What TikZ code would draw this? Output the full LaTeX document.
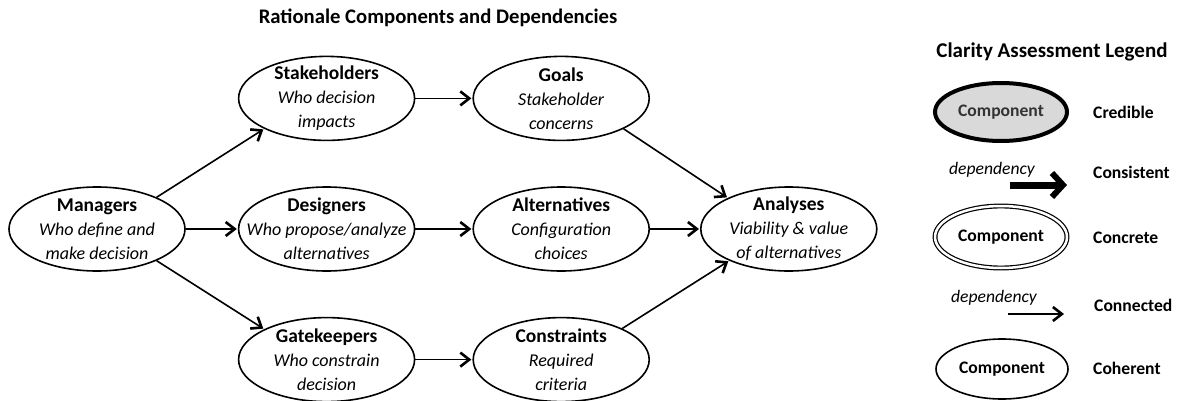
\documentclass[tikz,border=0pt]{standalone}
\usepackage{fontspec}
\setmainfont{Carlito}
\usetikzlibrary{shapes,arrows.meta,positioning}

\newcommand{\compname}[1]{{\fontsize{19.5}{24}\selectfont\bfseries #1}}

\begin{document}
\begin{tikzpicture}[
    x=1pt, y=1pt,
    node distance=52pt,
    comp/.style={draw, ellipse, line width=1.6pt, minimum width=176pt, minimum height=84pt, inner xsep=-19pt, inner ysep=-8pt, align=center, font=\fontsize{18}{24}\selectfont},
    legcomp/.style={draw, ellipse, line width=1.6pt, minimum width=132pt, minimum height=58pt, font=\fontsize{17.6}{20}\selectfont\bfseries},
    leglabel/.style={font=\fontsize{17.6}{20}\selectfont\bfseries, inner sep=0pt},
    arrow/.style={line width=1.6pt, -{Straight Barb[length=9pt,width=14pt,line width=2.6pt]}, shorten >=1pt}
]
\useasboundingbox (0,0) rectangle (1177,-401);

\node (title) [font=\fontsize{20.7}{22}\selectfont\bfseries] at (438,-18) {Rationale Components and Dependencies};

\node (managers) [comp] at (97,-229) {\compname{Managers}\\\textit{Who define and}\\\textit{make decision}};
\node (designers) [comp, right=of managers] {\compname{Designers}\\\textit{Who propose/analyze}\\\textit{alternatives}};
\node (stakeholders) [comp, above=45pt of designers] {\compname{Stakeholders}\\\textit{Who decision}\\\textit{impacts}};
\node (gatekeepers) [comp, below=45pt of designers] {\compname{Gatekeepers}\\\textit{Who constrain}\\\textit{decision}};
\node (alternatives) [comp, right=57pt of designers] {\compname{Alternatives}\\\textit{Configuration}\\\textit{choices}};
\node (goals) [comp, above=45pt of alternatives] {\compname{Goals}\\\textit{Stakeholder}\\\textit{concerns}};
\node (constraints) [comp, below=45pt of alternatives] {\compname{Constraints}\\\textit{Required}\\\textit{criteria}};
\node (analyses) [comp, right=50pt of alternatives] {\compname{Analyses}\\\textit{Viability \& value}\\\textit{of alternatives}};

\draw [arrow] (managers.28) -- (stakeholders.206);
\draw [arrow] (managers) -- (designers);
\draw [arrow] (managers.-28) -- (gatekeepers.154);
\draw [arrow] (stakeholders) -- (goals);
\draw [arrow] (designers) -- (alternatives);
\draw [arrow] (gatekeepers) -- (constraints);
\draw [arrow] (goals.-26) -- (analyses.153);
\draw [arrow] (alternatives) -- (analyses);
\draw [arrow] (constraints.27) -- (analyses.208);

% legend
\node (legtitle) [leglabel, font=\fontsize{21}{22}\selectfont\bfseries] at (1052,-52) {Clarity Assessment Legend};

\node (credible) [legcomp, fill=gray!30, text=black!80, line width=4pt] at (1001,-112) {Component};
\node (credlabel) [leglabel, anchor=west] at (1093,-112) {Credible};

\coordinate (consstart) at (1010,-185);
\coordinate (consend) at (1067,-185);
\draw [line width=7pt, -{Straight Barb[length=11pt,width=24pt,line width=6pt]}] (consstart) -- (consend);
\node (consdep) [font=\fontsize{17.6}{20}\selectfont\itshape] at (992,-170) {dependency};
\node (conslabel) [leglabel, anchor=west] at (1093,-172) {Consistent};

\node (concrete) [legcomp, double, double distance=2.5pt, line width=1.2pt, minimum height=62pt] at (1001,-237) {Component};
\node (concrlabel) [leglabel, anchor=west] at (1093,-238) {Concrete};

\coordinate (connstart) at (1008,-314);
\coordinate (connend) at (1064,-314);
\draw [arrow, shorten >=0pt] (connstart) -- (connend);
\node (conndep) [font=\fontsize{17.6}{20}\selectfont\itshape] at (994,-298) {dependency};
\node (connlabel) [leglabel, anchor=west] at (1094,-305) {Connected};

\node (coherent) [legcomp, minimum height=60pt] at (1002,-369) {Component};
\node (cohlabel) [leglabel, anchor=west] at (1093,-368) {Coherent};

\end{tikzpicture}
\end{document}
